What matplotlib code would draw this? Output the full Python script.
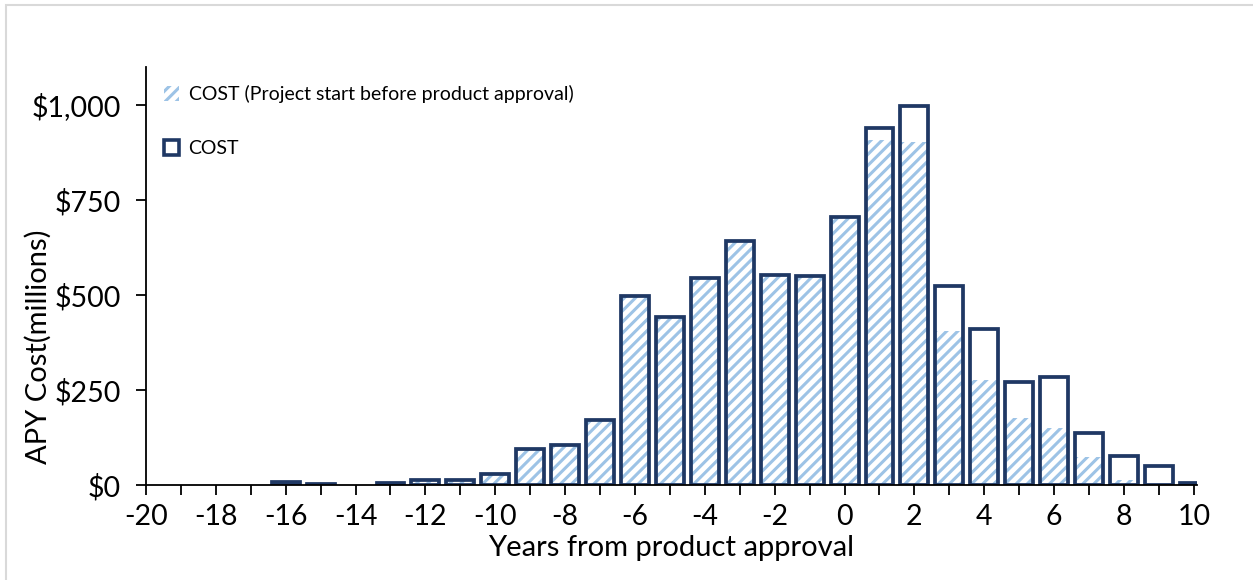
import numpy as np
import matplotlib
matplotlib.use("Agg")
import matplotlib.pyplot as plt
from matplotlib.patches import Patch, Rectangle

plt.rcParams['font.family'] = ['Lato', 'DejaVu Sans']
plt.rcParams['hatch.linewidth'] = 2.2
plt.rcParams['axes.unicode_minus'] = False

years = list(range(-20, 11))
# total cost per year (outline bars), $ millions
cost_total = [0, 0, 0, 0, 8, 3, 0, 4, 14, 13, 30, 96, 106, 170, 497, 443, 546, 642, 553, 551,
              706, 940, 997, 525, 410, 272, 283, 137, 76, 50, 4]
# cost of projects started before product approval (hatched)
cost_before = [0, 0, 0, 0, 8, 3, 0, 4, 14, 13, 30, 96, 106, 170, 497, 443, 546, 642, 553, 551,
               706, 907, 902, 405, 276, 176, 150, 74, 13, 3, 0]

navy = '#1f3864'
light = '#9dc3e6'

yrs = np.array(years)
tot = np.array(cost_total)
bef = np.array(cost_before)

fig = plt.figure(figsize=(12.53, 5.80), dpi=100)
ax = fig.add_axes([146 / 1253, 1 - 485 / 580, (1197 - 146) / 1253, (485 - 67) / 580])

m = bef > 0
ax.bar(yrs[m], bef[m], width=0.8, facecolor='none', edgecolor=light, hatch='///',
       linewidth=0, zorder=2)
m = tot > 0
ax.bar(yrs[m], tot[m], width=0.8, facecolor='none', edgecolor=navy, linewidth=2.7, zorder=3)

ax.set_xlim(-20, 10.09)
ax.set_ylim(0, 1100)
ax.set_xticks(range(-20, 11, 2))
ax.set_xticks(range(-20, 11), minor=True)
ax.set_yticks([0, 250, 500, 750, 1000])
ax.set_yticklabels(['$0', '$250', '$500', '$750', '$1,000'])

for s in ['top', 'right']:
    ax.spines[s].set_visible(False)
for s in ['left', 'bottom']:
    ax.spines[s].set_linewidth(1.3)
    ax.spines[s].set_zorder(4)

ax.tick_params(axis='both', which='both', direction='out', length=7, width=1.3, labelsize=20.5)
ax.tick_params(axis='x', which='both', pad=7)
ax.tick_params(axis='y', pad=11)

ax.set_xlabel('Years from product approval', fontsize=21, labelpad=3)
ax.set_ylabel('APY Cost(millions)', fontsize=21)
ax.yaxis.set_label_coords(-0.09, 0.33)

handles = [Patch(facecolor='none', edgecolor=light, hatch='///', linewidth=0),
           Patch(facecolor='white', edgecolor=navy, linewidth=2.6)]
labels = ['COST (Project start before product approval)', 'COST']
ax.legend(handles, labels, loc='upper left', bbox_to_anchor=(0.01, 0.975), frameon=False,
          fontsize=14, handlelength=0.75, handleheight=0.75, handletextpad=0.5,
          labelspacing=1.9, borderaxespad=0)

fig.patches.append(Rectangle((6 / 1253, -0.1), 2, (575 / 580) + 0.1, transform=fig.transFigure,
                             fill=False, edgecolor='#d9d9d9', linewidth=1.5))

fig.savefig('out.png', dpi=100)
